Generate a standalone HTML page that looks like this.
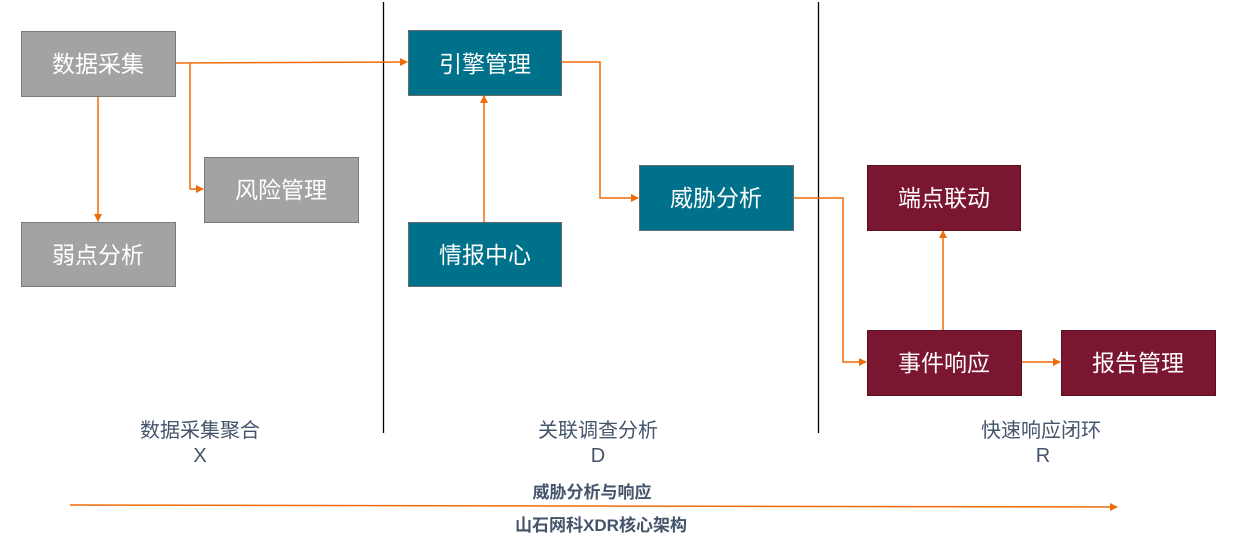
<!DOCTYPE html>
<html><head><meta charset="utf-8"><style>
html,body{margin:0;padding:0;background:#fff;}
svg{display:block;}
text{font-family:"Liberation Sans","Noto Sans CJK SC",sans-serif;}
</style></head><body>
<svg width="1236" height="551" viewBox="0 0 1236 551" xmlns="http://www.w3.org/2000/svg">
<defs>
<marker id="a" markerWidth="8" markerHeight="8" refX="7" refY="4" orient="auto" markerUnits="userSpaceOnUse"><path d="M0,0 L8,4 L0,8 z" fill="#ef6c0a"/></marker>
</defs>
<line x1="383.5" y1="2" x2="383.5" y2="433" stroke="#000" stroke-width="1.3"/>
<line x1="818.5" y1="2" x2="818.5" y2="433" stroke="#000" stroke-width="1.3"/>
<g stroke="#7a7a7a" stroke-width="1" fill="#a3a3a3">
<rect x="21.5" y="31.5" width="154" height="65"/>
<rect x="204.5" y="157.5" width="154" height="65"/>
<rect x="21.5" y="222.5" width="154" height="64"/>
</g>
<g stroke="#6a6a6a" stroke-width="1" fill="#00718a">
<rect x="408.5" y="30.5" width="153" height="65"/>
<rect x="408.5" y="222.5" width="153" height="64"/>
<rect x="639.5" y="165.5" width="154" height="65"/>
</g>
<g stroke="#5a0f22" stroke-width="1" fill="#7b1631">
<rect x="867.5" y="165.5" width="153" height="65"/>
<rect x="867.5" y="330.5" width="154" height="65"/>
<rect x="1061.5" y="330.5" width="154" height="65"/>
</g>
<g fill="none" stroke="#ef6c0a" stroke-width="1.5">
<path d="M176,63 L407,62" marker-end="url(#a)"/>
<path d="M190,63 L190,189 L203,189" marker-end="url(#a)"/>
<path d="M98,97 L98,221" marker-end="url(#a)"/>
<path d="M484,222 L484,96" marker-end="url(#a)"/>
<path d="M562,62 L600,62 L600,198 L638,198" marker-end="url(#a)"/>
<path d="M794,198 L843,198 L843,362 L866,362" marker-end="url(#a)"/>
<path d="M943,330 L943,231" marker-end="url(#a)"/>
<path d="M1022,362 L1060,362" marker-end="url(#a)"/>
<path d="M70,505 L1117,507" marker-end="url(#a)"/>
</g>
<g fill="#fff" font-size="23" text-anchor="middle">
<text x="98" y="72">数据采集</text>
<text x="281" y="198">风险管理</text>
<text x="98" y="263">弱点分析</text>
<text x="485" y="72">引擎管理</text>
<text x="485" y="263">情报中心</text>
<text x="716" y="206">威胁分析</text>
<text x="944" y="206">端点联动</text>
<text x="944" y="371">事件响应</text>
<text x="1138" y="371">报告管理</text>
</g>
<g fill="#44546a" font-size="20" text-anchor="middle">
<text x="200" y="437">数据采集聚合</text>
<text x="200" y="462">X</text>
<text x="598" y="437">关联调查分析</text>
<text x="598" y="462">D</text>
<text x="1041" y="437">快速响应闭环</text>
<text x="1043" y="462">R</text>
</g>
<g fill="#44546a" font-size="17" font-weight="bold" text-anchor="middle">
<text x="592" y="498">威胁分析与响应</text>
<text x="601" y="531">山石网科XDR核心架构</text>
</g>
</svg>
</body></html>
